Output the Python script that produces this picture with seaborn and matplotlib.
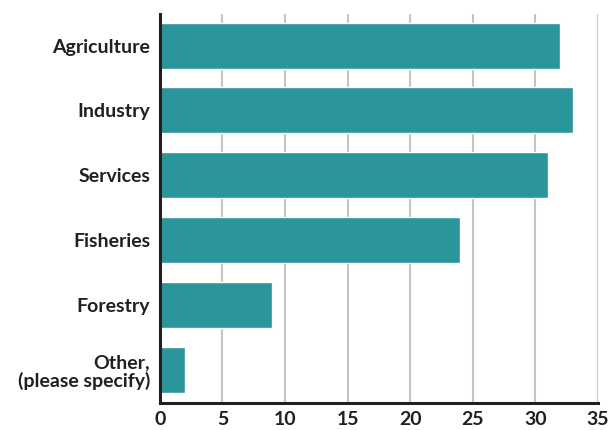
import matplotlib
matplotlib.use('Agg')
import matplotlib.pyplot as plt
import pandas as pd
import seaborn as sns

sectors = ['Agriculture', 'Industry', 'Services', 'Fisheries', 'Forestry', 'Other,\n(please specify)']
counts = [32, 33, 31, 24, 9, 2]

df = pd.DataFrame({'sector': sectors, 'count': counts})

sns.set_style('white')
plt.rcParams['font.family'] = ['Lato', 'DejaVu Sans']

fig = plt.figure(figsize=(6.15, 4.3), dpi=100)
ax = fig.add_axes([0.260, 0.063, 0.712, 0.905])

sns.barplot(data=df, x='count', y='sector', color='#2a959b', saturation=1,
            width=0.71, ax=ax, zorder=3)

ax.set_xlim(0, 35)
ax.set_ylim(5.51, -0.49)
ax.set_xticks(range(0, 36, 5))
ax.grid(axis='x', color='#c4c4c4', linewidth=1.5, zorder=0)
ax.grid(axis='y', visible=False)
ax.set_axisbelow(True)

for side in ['top', 'right']:
    ax.spines[side].set_visible(False)
for side in ['left', 'bottom']:
    ax.spines[side].set_color('#231f20')
    ax.spines[side].set_linewidth(2.2)
    ax.spines[side].set_zorder(4)

ax.tick_params(axis='both', length=0, labelsize=14, colors='#231f20')
ax.tick_params(axis='y', pad=7)
ax.tick_params(axis='x', pad=6)
for lbl in ax.get_xticklabels() + ax.get_yticklabels():
    lbl.set_fontweight('bold')
for lbl in ax.get_yticklabels():
    lbl.set_horizontalalignment('right')
    lbl.set_multialignment('right')
    lbl.set_linespacing(1.1)

ax.set_xlabel('')
ax.set_ylabel('')

fig.savefig('out.png', dpi=100)
